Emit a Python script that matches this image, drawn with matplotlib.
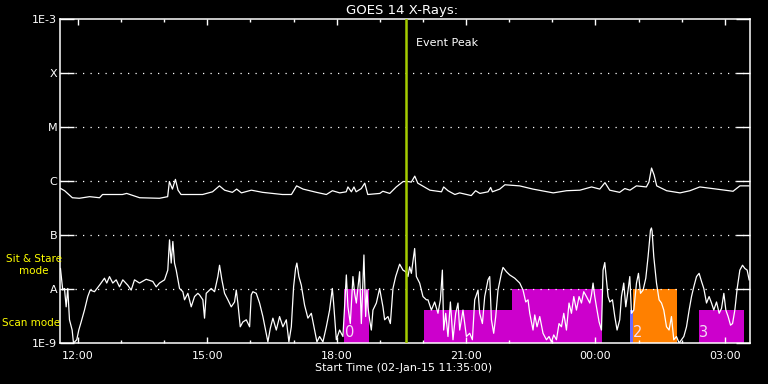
import numpy as np
import matplotlib
matplotlib.use("Agg")
import matplotlib.pyplot as plt

# GOES 14 X-ray flux, 02-Jan-15 11:35 onwards. Time in hours since 00:00 on 02-Jan
# (values above 24 fall on 03-Jan), flux stored as log10(W/m^2).
long_hours = [11.59, 11.69, 11.87, 12.03, 12.27, 12.50, 12.57, 13.03, 13.13, 13.43,
              13.89, 14.08, 14.12, 14.19, 14.26, 14.32, 14.39, 14.89, 15.12, 15.28,
              15.40, 15.58, 15.68, 15.79, 16.02, 16.28, 16.74, 16.95, 17.07, 17.22,
              17.53, 17.76, 17.90, 18.07, 18.22, 18.26, 18.34, 18.40, 18.45, 18.57,
              18.65, 18.72, 19.00, 19.07, 19.23, 19.38, 19.54, 19.65, 19.73, 19.81,
              19.88, 20.16, 20.43, 20.48, 20.58, 20.74, 20.85, 21.12, 21.22, 21.32,
              21.51, 21.57, 21.61, 21.78, 21.90, 22.24, 22.55, 23.02, 23.33, 23.64,
              23.91, 24.10, 24.22, 24.33, 24.56, 24.68, 24.80, 24.95, 25.18, 25.24,
              25.30, 25.36, 25.42, 25.65, 25.96, 26.19, 26.42, 26.81, 27.19, 27.35,
              27.56]
long_log = [-6.135, -6.18, -6.31, -6.32, -6.29, -6.31, -6.25, -6.25, -6.23, -6.31,
            -6.32, -6.29, -6.01, -6.15, -5.97, -6.17, -6.25, -6.25, -6.20, -6.09,
            -6.17, -6.21, -6.15, -6.22, -6.17, -6.21, -6.25, -6.25, -6.09, -6.15,
            -6.21, -6.25, -6.18, -6.22, -6.20, -6.11, -6.20, -6.11, -6.20, -6.14,
            -6.04, -6.25, -6.23, -6.19, -6.23, -6.11, -6.01, -6.01, -6.02, -5.91,
            -6.04, -6.17, -6.20, -6.11, -6.18, -6.25, -6.22, -6.27, -6.18, -6.23,
            -6.20, -6.12, -6.20, -6.15, -6.07, -6.09, -6.15, -6.22, -6.18, -6.17,
            -6.11, -6.15, -6.03, -6.17, -6.21, -6.14, -6.17, -6.09, -6.11, -6.02,
            -5.76, -5.89, -6.09, -6.18, -6.22, -6.18, -6.11, -6.15, -6.19, -6.09,
            -6.09]

short_hours = [11.594, 11.647, 11.687, 11.726, 11.763, 11.803, 11.865, 11.896, 11.972, 12.019,
               12.074, 12.151, 12.227, 12.283, 12.383, 12.499, 12.615, 12.668, 12.731, 12.807,
               12.886, 12.963, 13.04, 13.155, 13.234, 13.311, 13.427, 13.582, 13.735, 13.814,
               13.89, 14.007, 14.083, 14.123, 14.162, 14.2, 14.239, 14.278, 14.355, 14.432,
               14.471, 14.548, 14.626, 14.703, 14.78,
               14.819, 14.896, 14.935, 14.974, 15.09, 15.167, 15.244, 15.283, 15.337, 15.399,
               15.476, 15.554, 15.631, 15.671, 15.708, 15.763, 15.824, 15.903, 15.98, 16.018,
               16.056, 16.134, 16.211, 16.288, 16.35, 16.404, 16.459, 16.52, 16.599, 16.675,
               16.752, 16.831, 16.891, 16.947, 17.0, 17.046, 17.076, 17.123, 17.179, 17.255,
               17.332, 17.411, 17.487, 17.541, 17.603, 17.68, 17.759, 17.835, 17.898, 17.928,
               17.991, 18.067, 18.144, 18.223, 18.26, 18.315, 18.376, 18.415, 18.455, 18.531,
               18.571, 18.608, 18.631, 18.671, 18.701, 18.724, 18.763, 18.803, 18.84, 18.919,
               18.995, 19.072, 19.111, 19.188, 19.244, 19.304, 19.367, 19.459, 19.536, 19.599,
               19.652, 19.691, 19.731, 19.807, 19.847, 19.923, 20.0, 20.079,
               20.116, 20.195, 20.271, 20.348, 20.404, 20.45, 20.48, 20.527, 20.58, 20.636,
               20.696, 20.759, 20.812, 20.852, 20.928, 21.007, 21.084, 21.146, 21.2, 21.276,
               21.315, 21.378, 21.432, 21.508, 21.548, 21.587, 21.64, 21.687, 21.74, 21.819,
               21.856, 21.935, 22.012, 22.128, 22.244, 22.32, 22.383, 22.436, 22.476, 22.552,
               22.592, 22.645, 22.708, 22.784, 22.863, 22.923, 22.979, 23.032, 23.095, 23.155,
               23.211, 23.265, 23.327, 23.387, 23.443, 23.497, 23.559, 23.62, 23.675, 23.728,
               23.791, 23.868, 23.907, 23.944, 23.984, 24.023, 24.084, 24.139, 24.176, 24.216,
               24.255, 24.292, 24.332, 24.394, 24.448, 24.501, 24.563, 24.603, 24.656, 24.703,
               24.756, 24.796, 24.835, 24.889, 24.951, 24.997, 25.044, 25.104, 25.167, 25.22,
               25.276, 25.298, 25.313, 25.352, 25.415, 25.475, 25.531, 25.584, 25.647, 25.707,
               25.762, 25.816, 25.878, 25.94, 25.995, 26.049, 26.111, 26.172, 26.227, 26.28,
               26.343, 26.403, 26.459, 26.512, 26.575, 26.635, 26.691, 26.744, 26.807, 26.868,
               26.923, 26.977, 27.023, 27.076, 27.132, 27.179, 27.232, 27.286, 27.348, 27.41,
               27.464, 27.517, 27.563]
short_log = [-7.62, -8.02, -7.99, -8.33, -7.99, -8.57, -8.76, -9.0, -8.94, -8.76,
             -8.61, -8.39, -8.14, -8.02, -8.05, -7.93, -7.80, -7.89, -7.77, -7.89,
             -7.83, -7.96, -7.83, -7.93, -8.02, -7.83, -7.89, -7.82, -7.86, -7.96,
             -7.89, -7.83, -7.65, -7.09, -7.52, -7.12, -7.52, -7.65, -7.99, -8.05,
             -8.20, -8.08, -8.33, -8.14, -8.08,
             -8.11, -8.20, -8.54, -8.08, -7.99, -8.05, -7.77, -7.56, -7.83, -8.08,
             -8.20, -8.33, -8.24, -8.02, -8.26, -8.70, -8.61, -8.57, -8.70, -8.11,
             -8.05, -8.08, -8.26, -8.51, -8.76, -8.98, -8.73, -8.54, -8.76, -8.51,
             -8.70, -8.57, -8.98, -8.70, -7.96, -7.62, -7.52, -7.77, -7.93, -8.30,
             -8.54, -8.45, -8.76, -8.98, -8.88, -8.98, -8.70, -8.39, -7.99, -8.26,
             -8.94, -8.76, -8.88, -7.74, -8.33, -8.64, -7.77, -8.08, -8.26, -7.68,
             -8.64, -7.86, -7.37, -8.51, -8.02, -8.33, -8.57, -8.76, -8.39, -8.26,
             -7.99, -8.33, -8.57, -8.51, -8.64, -7.99, -7.77, -7.54, -7.65, -7.68,
             -7.77, -7.59, -7.71, -7.25, -7.77, -7.89, -8.14, -8.20,
             -8.20, -8.39, -8.24, -8.45, -8.20, -7.65, -8.76, -8.45, -8.88, -8.24,
             -8.94, -8.45, -8.26, -8.76, -8.39, -8.88, -8.82, -8.94, -8.20, -8.02,
             -8.45, -8.64, -8.14, -7.83, -7.77, -8.57, -8.82, -8.51, -8.02, -7.71,
             -7.60, -7.68, -7.74, -7.80, -7.89, -8.02, -8.24, -8.20, -8.45, -8.76,
             -8.48, -8.70, -8.51, -8.82, -8.94, -8.88, -8.98, -8.85, -8.94, -8.64,
             -8.70, -8.45, -8.76, -8.26, -8.45, -8.14, -8.39, -8.14, -8.26, -8.05,
             -8.14, -8.26, -8.11, -7.89, -8.14, -8.33, -8.61, -8.76, -7.65, -7.51,
             -7.83, -8.14, -8.24, -8.20, -8.51, -8.76, -8.57, -8.14, -7.89, -8.33,
             -8.02, -7.77, -8.45, -8.39, -7.89, -7.71, -8.08, -8.02, -7.80, -7.40,
             -6.91, -6.87, -6.93, -7.40, -7.89, -8.20, -8.26, -8.39, -8.70, -8.76,
             -8.51, -8.94, -8.88, -9.0, -8.94, -8.88, -8.70, -8.39, -8.14, -7.96,
             -7.77, -7.71, -7.86, -7.99, -8.26, -8.14, -8.26, -8.39, -8.24, -8.45,
             -8.36, -8.08, -8.39, -8.51, -8.67, -8.64, -8.39, -7.99, -7.65, -7.56,
             -7.62, -7.65, -7.83]

# observing mode blocks (start/end hour, top of block as log10 flux)
block_start = [18.18, 20.02, 22.07, 24.80, 24.87, 26.40]
block_end = [18.74, 22.07, 24.16, 24.87, 25.90, 27.44]
block_top = [-8.0, -8.39, -8.0, -8.39, -8.0, -8.39]
block_colors = ["#cc00cc", "#cc00cc", "#cc00cc", "#6a6aff", "#ff8000", "#cc00cc"]

# numbers written into some blocks
block_labels = ["0", "2", "3"]
block_label_hours = [18.30, 24.98, 26.50]
block_label_log = -8.80

event_peak = 19.61  # 19:37

start_hour = 11 + 35 / 60
end_hour = start_hour + 16
xtick_hours = [12, 15, 18, 21, 24, 27]
xtick_labels = ["12:00", "15:00", "18:00", "21:00", "00:00", "03:00"]
ytick_values = [1e-9, 1e-8, 1e-7, 1e-6, 1e-5, 1e-4, 1e-3]
ytick_labels = ["1E-9", "A", "B", "C", "M", "X", "1E-3"]

plt.rcParams["font.family"] = ["DejaVu Sans"]

fig = plt.figure(figsize=(7.68, 3.84), dpi=100, facecolor="black")
ax = fig.add_axes([60 / 768, 41 / 384, 690 / 768, 324 / 384])
ax.set_facecolor("black")

# mode blocks
for s, e, top, c in zip(block_start, block_end, block_top, block_colors):
    ax.bar(s, 10 ** top - 1e-10, width=e - s, bottom=1e-10, align="edge",
           color=c, linewidth=0, zorder=1)
for lab, h in zip(block_labels, block_label_hours):
    ax.text(h, 10 ** block_label_log, lab, color="#f4dcf4", fontsize=10.5,
            ha="center", va="center", zorder=2)

# dotted flare-class levels
for v in ytick_values[1:-1]:
    ax.axhline(v, color="white", lw=0.9, ls=(0, (1, 5)), zorder=2)

ax.plot(long_hours, 10 ** np.array(long_log), color="white", lw=0.9, zorder=3)
ax.plot(short_hours, 10 ** np.array(short_log), color="white", lw=0.9, zorder=3)

ax.axvline(event_peak, color="#a4cc00", lw=1.8, zorder=4)
ax.text(event_peak + 0.24, 10 ** -3.44, "Event Peak", color="white",
        fontsize=8, ha="left", va="center")

ax.set_yscale("log")
ax.set_ylim(1e-9, 1e-3)
ax.set_xlim(start_hour, end_hour)
ax.set_yticks(ytick_values)
ax.set_yticklabels(ytick_labels)
ax.yaxis.set_minor_locator(matplotlib.ticker.NullLocator())
ax.set_xticks(xtick_hours)
ax.set_xticklabels(xtick_labels)
ax.set_xticks(np.arange(12, 28), minor=True)

ax.tick_params(axis="y", which="major", direction="in", length=10, width=1,
               left=True, right=True, colors="white", labelsize=8, pad=2)
ax.tick_params(axis="x", which="major", direction="in", length=4.3, width=1,
               top=True, bottom=True, colors="white", labelsize=8, pad=6)
ax.tick_params(axis="x", which="minor", direction="in", length=2.2, width=1,
               top=True, bottom=True, colors="white")
for sp in ax.spines.values():
    sp.set_color("white")
    sp.set_linewidth(1.1)

fig.text(402 / 768, 1 - 10.5 / 384, "GOES 14 X-Rays:", color="white",
         fontsize=9.5, ha="center", va="center")
fig.text(404 / 768, 1 - 368 / 384, "Start Time (02-Jan-15 11:35:00)", color="white",
         fontsize=8, ha="center", va="center")
fig.text(34 / 768, 1 - 264.5 / 384, "Sit & Stare\nmode", color="#ffff00",
         fontsize=7.5, ha="center", va="center", linespacing=1.25)
fig.text(2 / 768, 1 - 323.5 / 384, "Scan mode", color="#ffff00",
         fontsize=7.5, ha="left", va="center")

fig.savefig("out.png", dpi=100, facecolor="black")
